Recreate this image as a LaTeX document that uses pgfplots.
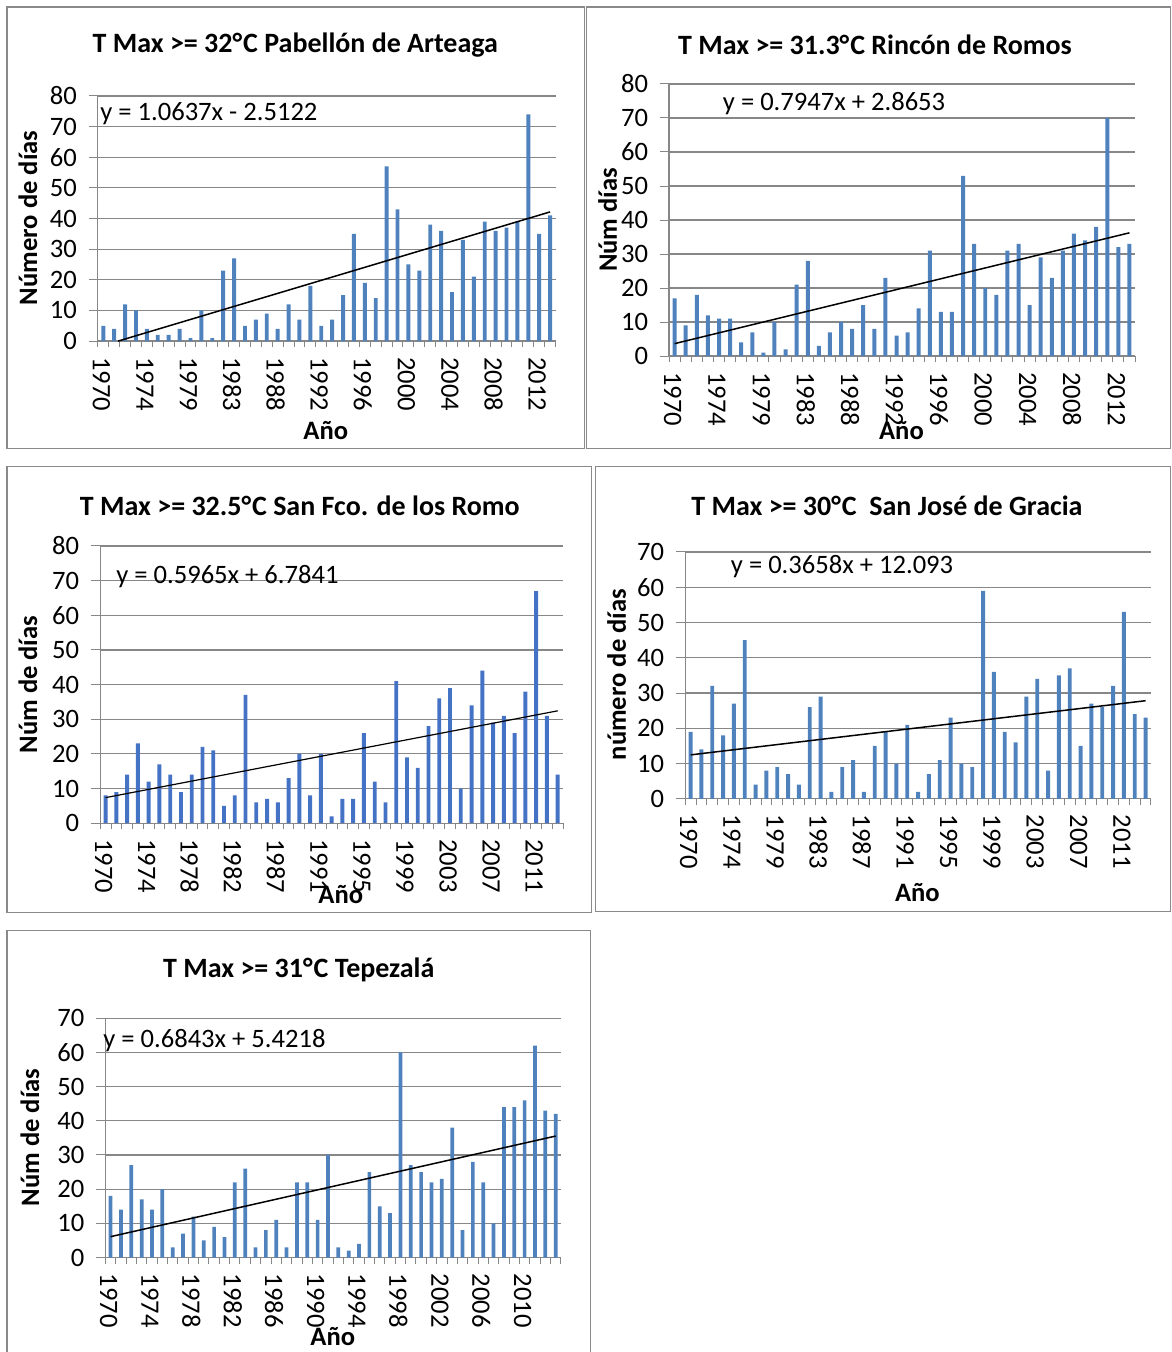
\documentclass[border=0pt]{standalone}
\usepackage{fontspec}
\setmainfont{Carlito}
\usepackage{pgfplots}
\pgfplotsset{compat=1.18}
\definecolor{barblue}{HTML}{4F81BD}
\definecolor{barblueb}{HTML}{4472C4}
\definecolor{gridgray}{HTML}{878787}
\definecolor{framegray}{HTML}{8A8A8A}
\newcommand\tickfont{\fontsize{13.3}{15}\selectfont}
\newcommand\titlefont{\fontsize{14}{16}\selectfont\bfseries}
\newcommand\labfont{\fontsize{13.3}{15}\selectfont\bfseries}
\newcommand\eqfont{\fontsize{13.3}{15}\selectfont}
\pgfplotsset{
  panel/.style={
    scale only axis, anchor=south west,
    axis x line*=bottom, axis y line*=left,
    axis line style={gridgray, line width=0.6pt},
    ymajorgrids, grid style={gridgray, line width=0.6pt},
    ymin=0,
    tick align=outside,
    major tick length=4.5pt,
    minor tick length=3pt,
    tick style={gridgray, line width=0.5pt},
    major x tick style={draw=none},
    minor x tick style={gridgray, line width=0.5pt},
    xtick={0,4,...,40},
    /pgf/number format/assume math mode=true,
    yticklabel style={font=\tickfont, xshift=-2.5pt},
    xticklabel style={font=\tickfont, rotate=-90, anchor=west, yshift=-1pt},
    clip=false,
  },
  bars/.style={ybar, bar width=0.36, fill=barblue, draw=none},
  trend/.style={black, line width=0.75pt, sharp plot, no marks},
}
\begin{document}
\begin{tikzpicture}
\begin{scope}[x=0.5pt,y=-0.5pt]
\useasboundingbox (0,0) rectangle (1172,1352);
\draw[framegray, line width=0.75pt] (7,7) rectangle (585,449);
\draw[framegray, line width=0.75pt] (587,7) rectangle (1171,449);
\draw[framegray, line width=0.75pt] (7,467) rectangle (592,913);
\draw[framegray, line width=0.75pt] (596,467) rectangle (1171,912);
\draw[framegray, line width=0.75pt] (7,931) rectangle (591,1360);
% titles
\node[font=\titlefont] at (295.5,45) {T Max >= 32°\kern0.5pt C Pabellón de Arteaga};
\node[font=\titlefont] at (875.5,45) {T Max >= 31.3°\kern0.5pt C Rincón de Romos};
\node[font=\titlefont] at (300,506) {T Max >= 32.5°\kern0.5pt C San Fco. de los Romo};
\node[font=\titlefont] at (887.5,506) {T Max >= 30°\kern0.5pt C\ \ San José de Gracia};
\node[font=\titlefont] at (299,970) {T Max >= 31°\kern0.5pt C Tepezalá};
% y labels
\node[font=\labfont, rotate=90] at (28,218) {Número de días};
\node[font=\labfont, rotate=90] at (608,220) {Núm días};
\node[font=\labfont, rotate=90] at (28,685) {Núm de días};
\node[font=\labfont, rotate=90] at (617,675) {número de días};
\node[font=\labfont, rotate=90] at (30,1138) {Núm de días};
\end{scope}

% Panel 1
\begin{axis}[panel, at={(48.95pt,-170.65pt)}, width=229pt, height=122.65pt,
  xmin=-0.5, xmax=41.5, ymax=80, ytick={0,10,...,80},
  minor xtick={-0.5,0.5,...,41.5},
  xticklabels={1970,1974,1979,1983,1988,1992,1996,2000,2004,2008,2012}]
\addplot[bars] coordinates {(0,5)(1,4)(2,12)(3,10)(4,4)(5,2)(6,2)(7,4)(8,1)(9,10)(10,1)(11,23)(12,27)(13,5)(14,7)(15,9)(16,4)(17,12)(18,7)(19,18)(20,5)(21,7)(22,15)(23,35)(24,19)(25,14)(26,57)(27,43)(28,25)(29,23)(30,38)(31,36)(32,16)(33,33)(34,21)(35,39)(36,36)(37,37)(38,39)(39,74)(40,35)(41,41)};
\addplot[trend] coordinates {(1.36,0)(41,42.16)};
\end{axis}

% Panel 2
\begin{axis}[panel, at={(334.75pt,-178.15pt)}, width=233.1pt, height=136.15pt,
  xmin=-0.5, xmax=41.5, ymax=80, ytick={0,10,...,80},
  minor xtick={-0.5,0.5,...,41.5},
  xticklabels={1970,1974,1979,1983,1988,1992,1996,2000,2004,2008,2012}]
\addplot[bars] coordinates {(0,17)(1,9)(2,18)(3,12)(4,11)(5,11)(6,4)(7,7)(8,1)(9,10)(10,2)(11,21)(12,28)(13,3)(14,7)(15,10)(16,8)(17,15)(18,8)(19,23)(20,6)(21,7)(22,14)(23,31)(24,13)(25,13)(26,53)(27,33)(28,20)(29,18)(30,31)(31,33)(32,15)(33,29)(34,23)(35,31)(36,36)(37,34)(38,38)(39,70)(40,32)(41,33)};
\addplot[trend] coordinates {(0,3.66)(41,36.24)};
\end{axis}

% Panel 3
\begin{axis}[panel, at={(50.15pt,-411.85pt)}, width=231.55pt, height=138.7pt,
  xmin=-0.5, xmax=42.5, ymax=80, ytick={0,10,...,80},
  minor xtick={-0.5,0.5,...,42.5},
  xticklabels={1970,1974,1978,1982,1987,1991,1995,1999,2003,2007,2011}]
\addplot[bars, fill=barblueb] coordinates {(0,8)(1,9)(2,14)(3,23)(4,12)(5,17)(6,14)(7,9)(8,14)(9,22)(10,21)(11,5)(12,8)(13,37)(14,6)(15,7)(16,6)(17,13)(18,20)(19,8)(20,20)(21,2)(22,7)(23,7)(24,26)(25,12)(26,6)(27,41)(28,19)(29,16)(30,28)(31,36)(32,39)(33,10)(34,34)(35,44)(36,29)(37,31)(38,26)(39,38)(40,67)(41,31)(42,14)};
\addplot[trend, line width=0.6pt] coordinates {(0,7.38)(42,32.43)};
\end{axis}

% Panel 4
\begin{axis}[panel, at={(342.8pt,-399.65pt)}, width=233.05pt, height=123.5pt,
  xmin=-0.5, xmax=42.5, ymax=70, ytick={0,10,...,70},
  minor xtick={-0.5,0.5,...,42.5},
  xticklabels={1970,1974,1979,1983,1987,1991,1995,1999,2003,2007,2011}]
\addplot[bars] coordinates {(0,19)(1,14)(2,32)(3,18)(4,27)(5,45)(6,4)(7,8)(8,9)(9,7)(10,4)(11,26)(12,29)(13,2)(14,9)(15,11)(16,2)(17,15)(18,19)(19,10)(20,21)(21,2)(22,7)(23,11)(24,23)(25,10)(26,9)(27,59)(28,36)(29,19)(30,16)(31,29)(32,34)(33,8)(34,35)(35,37)(36,15)(37,27)(38,26)(39,32)(40,53)(41,24)(42,23)};
\addplot[trend] coordinates {(0,12.46)(42,27.82)};
\end{axis}

% Panel 5
\begin{axis}[panel, at={(52.75pt,-629.15pt)}, width=227.85pt, height=119.75pt,
  xmin=-0.5, xmax=43.5, ymax=70, ytick={0,10,...,70},
  minor xtick={-0.5,0.5,...,43.5},
  xticklabels={1970,1974,1978,1982,1986,1990,1994,1998,2002,2006,2010}]
\addplot[bars] coordinates {(0,18)(1,14)(2,27)(3,17)(4,14)(5,20)(6,3)(7,7)(8,12)(9,5)(10,9)(11,6)(12,22)(13,26)(14,3)(15,8)(16,11)(17,3)(18,22)(19,22)(20,11)(21,30)(22,3)(23,2)(24,4)(25,25)(26,15)(27,13)(28,60)(29,27)(30,25)(31,22)(32,23)(33,38)(34,8)(35,28)(36,22)(37,10)(38,44)(39,44)(40,46)(41,62)(42,43)(43,42)};
\addplot[trend] coordinates {(0,6.11)(43,35.53)};
\end{axis}

\begin{scope}[x=0.5pt,y=-0.5pt]
% equations
\node[font=\eqfont, anchor=west, inner sep=0pt] at (100,114) {y = 1.0637x - 2.5122};
\node[font=\eqfont, anchor=west, inner sep=0pt] at (723,104) {y = 0.7947x + 2.8653};
\node[font=\eqfont, anchor=west, inner sep=0pt] at (116,577) {y = 0.5965x + 6.7841};
\node[font=\eqfont, anchor=west, inner sep=0pt] at (731,567) {y = 0.3658x + 12.093};
\node[font=\eqfont, anchor=west, inner sep=0pt] at (103,1041) {y = 0.6843x + 5.4218};
% x labels
\node[font=\labfont] at (326,431) {Año};
\node[font=\labfont] at (902,431) {Año};
\node[font=\labfont] at (341,895) {Año};
\node[font=\labfont] at (918,893) {Año};
\node[font=\labfont] at (333,1337) {Año};
\end{scope}
\end{tikzpicture}
\end{document}
